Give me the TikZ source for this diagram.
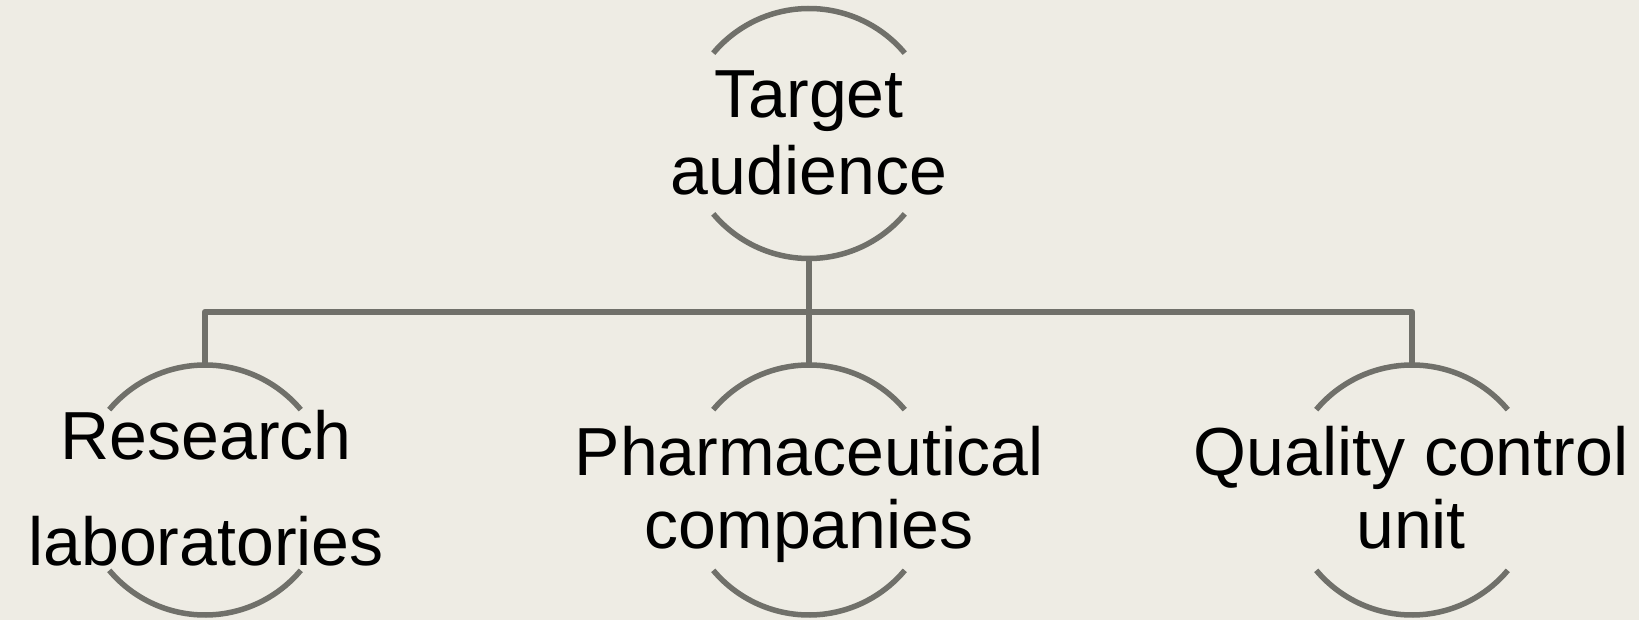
\documentclass[tikz,border=0pt]{standalone}
\usepackage{fontspec}
\setmainfont{Liberation Sans}
\definecolor{bgc}{RGB}{238,236,228}
\definecolor{linec}{RGB}{112,112,106}
\tikzset{
  hub/.style={circle, minimum size=250pt, inner sep=0pt, outer sep=0pt},
  rim/.style={draw=linec, line width=5.5pt},
  conn/.style={draw=linec, line width=6.5pt, line join=round},
  lbl/.style={anchor=base, inner sep=0pt, font=\fontsize{68}{80}\selectfont, text=black}
}
\begin{document}
\begin{tikzpicture}[x=1pt,y=1pt]
\fill[bgc] (0,0) rectangle (1639,-620);
\useasboundingbox (0,0) rectangle (1639,-620);
% hubs
\node[hub] (top) at (809,-133.5) {};
\node[hub] (res) at (205,-490) {};
\node[hub] (ph)  at (809,-490) {};
\node[hub] (qc)  at (1412,-490) {};
\foreach \n in {top,res,ph,qc} {
  \draw[rim] (\n.40) arc[start angle=40, end angle=140, radius=125pt];
  \draw[rim] (\n.220) arc[start angle=220, end angle=320, radius=125pt];
}
% connectors
\coordinate (bus) at (809,-312);
\draw[conn] (top.south) -- (bus);
\draw[conn] (res.north) |- (bus) -| (qc.north);
\draw[conn] (ph.north) -- (bus);
% labels
\node[lbl] (t1) at (809,-118) {Target};
\node[lbl] (t2) at (809,-195) {audience};
\node[lbl] (r1) at (206,-459) {Research};
\node[lbl] (r2) at (206,-565) {laboratories};
\node[lbl] (p1) at (809,-475) {Pharmaceutical};
\node[lbl] (p2) at (809,-548) {companies};
\node[lbl] (q1) at (1411,-475) {Quality control};
\node[lbl] (q2) at (1411,-548) {unit};
\end{tikzpicture}
\end{document}
